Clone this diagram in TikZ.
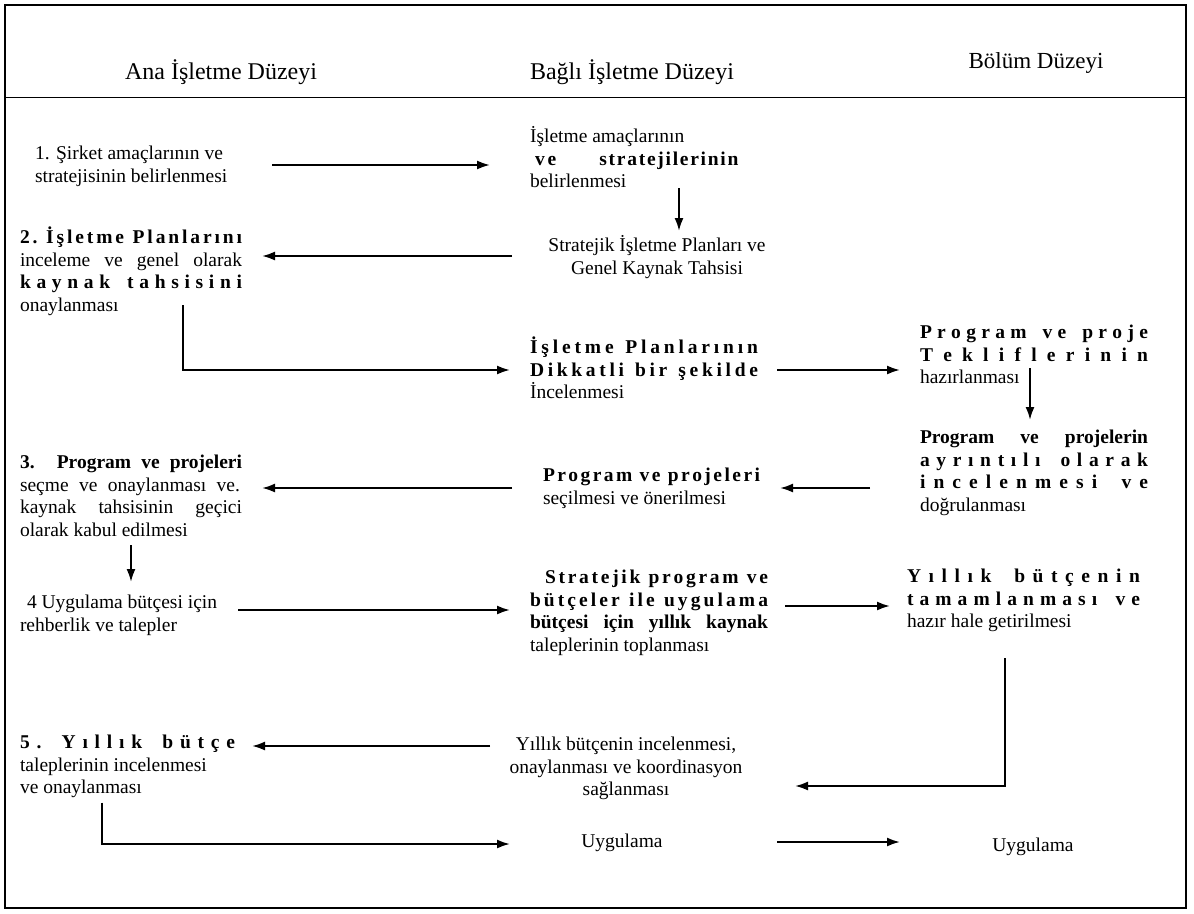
\documentclass[tikz,border=0pt]{standalone}
\usepackage{fontspec}
\setmainfont{Liberation Serif}
\usetikzlibrary{arrows.meta}

% letter-spread helpers: each letter separated by stretchable glue,
% words separated by triple glue, line set to a fixed width
\makeatletter
\newcommand\spreadword[1]{\@tfor\sw@c:=#1\do{\sw@c\hfil}\unskip}
\def\sw@words#1 #2\@nil{\spreadword{#1}\ifx\relax#2\relax\else\hfil\hfil\hfil\sw@words#2\@nil\fi}
\newcommand\sline[2]{\makebox[#1][s]{\sw@words#2 \@nil}}
\makeatother
\newcommand\jline[2]{\makebox[#1][s]{#2}}
% fixed first-line height so every text block sits the same way under its anchor
\newcommand\fl{\rule{0pt}{28pt}}
\newcommand\bodyfont{\fontsize{19.5}{22.5}\selectfont}
\newcommand\headfont{\fontsize{24}{28}\selectfont}

\tikzset{
  txt/.style={anchor=north west, inner sep=0pt, outer sep=0pt, align=left, font=\bodyfont},
  ctxt/.style={anchor=north, inner sep=0pt, outer sep=0pt, align=center, font=\bodyfont},
  word/.style={anchor=base, inner sep=0pt, outer sep=0pt, font=\bodyfont},
  head/.style={anchor=base, inner sep=0pt, outer sep=0pt, font=\headfont},
  arr/.style={line width=2pt, -{Latex[length=13pt,width=9pt]}},
  frame/.style={line width=2pt},
  rule/.style={line width=1pt}
}

\begin{document}
\begin{tikzpicture}[x=1pt, y=-1pt]
\useasboundingbox (0,0) rectangle (1194,913);

% frame and header rule
\draw[frame] (5,5) rectangle (1186,908);
\draw[rule] (5,97) -- (1186,97);

% column headings
\node[head] (hA) at (221,79) {Ana İşletme Düzeyi};
\node[head] (hB) at (632,79) {Bağlı İşletme Düzeyi};
\node[head, font=\fontsize{23}{27}\selectfont] (hC) at (1036,68) {Bölüm Düzeyi};

% step texts
\node[txt] (n1) at (35,131.5) {\fl 1. Şirket amaçlarının ve\\stratejisinin belirlenmesi};
\node[txt] (m1) at (530,114.5) {\fl İşletme amaçlarının\\
  \hspace*{5pt}\textbf{v\hspace{3pt}e}\hspace{43pt}\textbf{\sline{139pt}{stratejilerinin}}\\
  belirlenmesi};
\node[ctxt] (m2) at (657,223.5) {\fl Stratejik İşletme Planları ve\\Genel Kaynak Tahsisi};
\node[txt] (n2) at (20,215.5) {\fl \textbf{\sline{222pt}{2. İşletme Planlarını}}\\
  \jline{222pt}{inceleme ve genel olarak}\\
  \textbf{\sline{222pt}{kaynak tahsisini}}\\
  onaylanması};
\node[txt] (m3) at (530,325.5) {\fl \textbf{\sline{228pt}{İşletme Planlarının}}\\
  \textbf{\sline{228pt}{Dikkatli bir şekilde}}\\
  İncelenmesi};
\node[txt] (r1) at (920,310.5) {\fl \textbf{\sline{228pt}{Program ve proje}}\\
  \textbf{\sline{228pt}{Tekliflerinin}}\\
  hazırlanması};
\node[txt] (r2) at (920,415.5) {\fl \textbf{\jline{228pt}{Program ve projelerin}}\\
  \textbf{\sline{228pt}{ayrıntılı olarak}}\\
  \textbf{\sline{228pt}{incelenmesi ve}}\\
  doğrulanması};
\node[txt] (m4) at (543,453.5) {\fl \textbf{\sline{217pt}{Program ve projeleri}}\\
  seçilmesi ve önerilmesi};
\node[txt] (n3) at (20,440.5) {\fl \textbf{\jline{222pt}{3. Program ve projeleri}}\\
  \jline{220pt}{seçme ve onaylanması ve.}\\
  \jline{222pt}{kaynak tahsisinin geçici}\\
  olarak kabul edilmesi};
\node[txt] (n4) at (20,580.5) {\fl \hspace*{7pt}4 Uygulama bütçesi için\\rehberlik ve talepler};
\node[txt] (m5) at (530,555.5) {\fl \hspace*{15pt}\textbf{\sline{223pt}{Stratejik program ve}}\\
  \textbf{\sline{238pt}{bütçeler ile uygulama}}\\
  \textbf{\jline{238pt}{bütçesi için yıllık kaynak}}\\
  taleplerinin toplanması};
\node[txt] (r3) at (907,554.5) {\fl \textbf{\sline{233pt}{Yıllık bütçenin}}\\
  \textbf{\sline{233pt}{tamamlanması ve}}\\
  hazır hale getirilmesi};
\node[ctxt] (m6) at (626,722.5) {\fl Yıllık bütçenin incelenmesi,\\onaylanması ve koordinasyon\\sağlanması};
\node[txt] (n5) at (20,720.5) {\fl \textbf{\sline{215pt}{5. Yıllık bütçe}}\\
  taleplerinin incelenmesi\\
  ve onaylanması};
\node[word] (m7) at (622,847) {Uygulama};
\node[word] (r4) at (1033,851) {Uygulama};

% connectors
\draw[arr] ([xshift=237pt,yshift=-33.5pt]n1.north west) -- ([xshift=-40pt,yshift=-33.5pt]n1.north west -| m1.north west);
\draw[arr] ([xshift=149pt,yshift=-73.5pt]m1.north west) -- ([xshift=149pt,yshift=-7.5pt]m1.north west |- m2.north);
\draw[arr] ([xshift=-145pt,yshift=-32.5pt]m2.north) -- ([xshift=242pt,yshift=-32.5pt]m2.north -| n2.north west);
\draw[arr] ([xshift=163pt,yshift=-89.5pt]n2.north west) |- ([xshift=-20pt,yshift=-44.5pt]m3.north west);
\draw[arr] ([xshift=247pt,yshift=-44.5pt]m3.north west) -- ([xshift=-20pt,yshift=-44.5pt]m3.north west -| r1.north west);
\draw[arr] ([xshift=110pt,yshift=-57.5pt]r1.north west) -- ([xshift=110pt,yshift=-4.5pt]r1.north west |- r2.north west);
\draw[arr] ([xshift=-50pt,yshift=-72.5pt]r2.north west) -- ([xshift=237pt,yshift=-72.5pt]r2.north west -| m4.north west);
\draw[arr] ([xshift=-31pt,yshift=-34.5pt]m4.north west) -- ([xshift=242pt,yshift=-34.5pt]m4.north west -| n3.north west);
\draw[arr] ([xshift=111pt,yshift=-104.5pt]n3.north west) -- ([xshift=111pt,yshift=-1.5pt]n3.north west |- n4.north west);
\draw[arr] ([xshift=218pt,yshift=-29.5pt]n4.north west) -- ([xshift=-20pt,yshift=-29.5pt]n4.north west -| m5.north west);
\draw[arr] ([xshift=255pt,yshift=-50.5pt]m5.north west) -- ([xshift=-17pt,yshift=-50.5pt]m5.north west -| r3.north west);
\draw[arr] ([xshift=98pt,yshift=-103.5pt]r3.north west) |- ([xshift=169pt,yshift=-63.5pt]m6.north);
\draw[arr] ([xshift=-136pt,yshift=-23.5pt]m6.north) -- ([xshift=232pt,yshift=-23.5pt]m6.north -| n5.north west);
\draw[arr] ([xshift=82pt,yshift=-82pt]n5.north west) |- ([xshift=-112pt,yshift=3pt]m7.base);
\draw[arr] ([xshift=155pt,yshift=5pt]m7.base) -- ([xshift=-133pt,yshift=5pt]m7.base -| r4.base);
\end{tikzpicture}
\end{document}
